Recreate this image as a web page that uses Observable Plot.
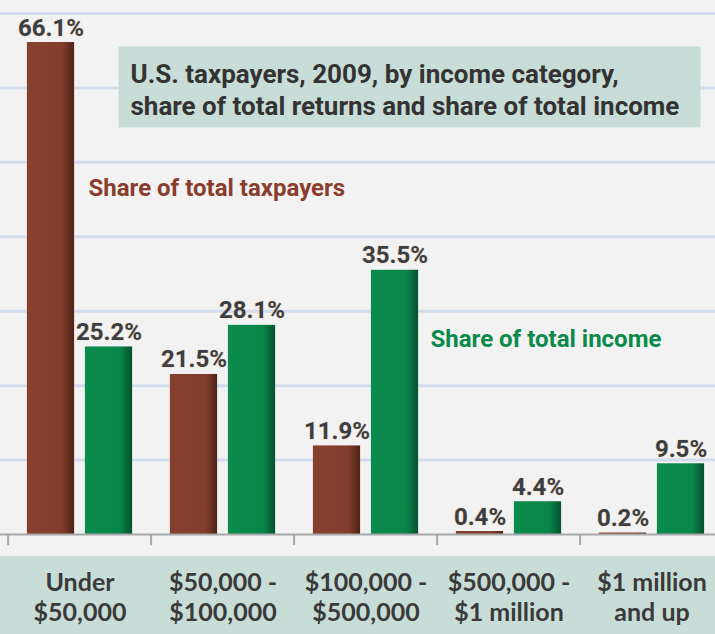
<!DOCTYPE html>
<html>
<head>
<meta charset="utf-8">
<script src="https://cdn.jsdelivr.net/npm/d3@7"></script>
<script src="https://cdn.jsdelivr.net/npm/@observablehq/plot@0.6"></script>
<style>
  html, body { margin: 0; padding: 0; background: #f2f2f2; overflow: hidden; }
  #chart { width: 715px; height: 634px; overflow: hidden; }
</style>
</head>
<body>
<div id="chart"></div>
<script>
const categories = ["Under\n$50,000", "$50,000 -\n$100,000", "$100,000 -\n$500,000", "$500,000 -\n$1 million", "$1 million\nand up"];
const taxpayersShare = [66.1, 21.5, 11.9, 0.4, 0.2];
const incomeShare = [25.2, 28.1, 35.5, 4.4, 9.5];
const gridTicks = [10, 20, 30, 40, 50, 60, 70];
const titleText = "U.S. taxpayers, 2009, by income category,\nshare of total returns and share of total income";
const taxpayersLabel = "Share of total taxpayers";
const incomeLabel = "Share of total income";

const taxRows = categories.map((c, i) => ({category: c, value: taxpayersShare[i]}));
const incRows = categories.map((c, i) => ({category: c, value: incomeShare[i]}));

const narrow = "Roboto, 'Liberation Sans', sans-serif";
const fmt = v => v.toFixed(1) + "%";
const half = 71.9;   // half band width in px
const off = 29;      // bar center offset from band center
const barInset = half - 24;

const plot = Plot.plot({
  width: 715,
  height: 634,
  margin: 0,
  style: {background: "linear-gradient(#f2f2f2 0px, #f2f2f2 556px, #c8ddd7 556px)", overflow: "hidden"},
  x: {type: "band", domain: categories, range: [5.5, 724.5], padding: 0, axis: null},
  y: {domain: [0, 70], range: [534, 13], axis: null},
  marks: [
    Plot.ruleY(gridTicks, {stroke: "#d3dcea", strokeWidth: 3}),
    Plot.frame({fill: "#c8ddd7", stroke: null, insetLeft: 118, insetRight: 15, insetTop: 46, insetBottom: 507}),
    Plot.text([titleText], {frameAnchor: "top-left", dx: 130, dy: 88.5, textAnchor: "start", lineAnchor: "middle", lineHeight: 1.2, fontSize: 26, fontWeight: "bold", fill: "#333", fontFamily: narrow}),
    Plot.barY(taxRows, {x: "category", y: "value", fill: "url(#brownGrad)", insetLeft: barInset, insetRight: barInset, dx: -off}),
    Plot.barY(incRows, {x: "category", y: "value", fill: "url(#greenGrad)", insetLeft: barInset, insetRight: barInset, dx: off}),
    Plot.ruleY([0], {stroke: "#a8a8a8", strokeWidth: 2}),
    Plot.ruleX(categories, {x: d => d, y1: 0, y2: -1.5, dx: -half, stroke: "#a8a8a8", strokeWidth: 2}),
    Plot.text(taxRows, {x: "category", y: "value", text: d => fmt(d.value), dx: -off, dy: -7, lineAnchor: "bottom", fontSize: 24, fontWeight: "bold", fill: "#3b3e45", stroke: "#f0c890", strokeWidth: 1.2, strokeOpacity: 0.5, paintOrder: "stroke", fontFamily: narrow}),
    Plot.text(incRows, {x: "category", y: "value", text: d => fmt(d.value), dx: off, dy: -7, lineAnchor: "bottom", fontSize: 24, fontWeight: "bold", fill: "#3b3e45", stroke: "#f0c890", strokeWidth: 1.2, strokeOpacity: 0.5, paintOrder: "stroke", fontFamily: narrow}),
    Plot.text([taxpayersLabel], {frameAnchor: "top-left", dx: 88, dy: 188, textAnchor: "start", lineAnchor: "middle", fontSize: 24, fontWeight: "bold", fill: "#8a3d2c", fontFamily: narrow}),
    Plot.text([incomeLabel], {frameAnchor: "top-left", dx: 430, dy: 339, textAnchor: "start", lineAnchor: "middle", fontSize: 24, fontWeight: "bold", fill: "#0b8a4c", fontFamily: narrow}),
    Plot.text(categories, {x: d => d, text: d => d, frameAnchor: "bottom", dy: -38.5, lineAnchor: "middle", lineHeight: 1.2, fontSize: 25, fontWeight: "bold", fill: "#3a3a3a", fontFamily: "Lato, 'Open Sans', sans-serif"})
  ]
});

d3.select(plot).insert("defs", ":first-child").html(`
  <linearGradient id="brownGrad" x1="0" x2="1" y1="0" y2="0">
    <stop offset="0" stop-color="#86402e"/>
    <stop offset="0.75" stop-color="#823e2c"/>
    <stop offset="1" stop-color="#4e2217"/>
  </linearGradient>
  <linearGradient id="greenGrad" x1="0" x2="1" y1="0" y2="0">
    <stop offset="0" stop-color="#0b8b4e"/>
    <stop offset="0.75" stop-color="#0a854a"/>
    <stop offset="1" stop-color="#05502d"/>
  </linearGradient>
`);

document.getElementById("chart").appendChild(plot);
</script>
</body>
</html>
